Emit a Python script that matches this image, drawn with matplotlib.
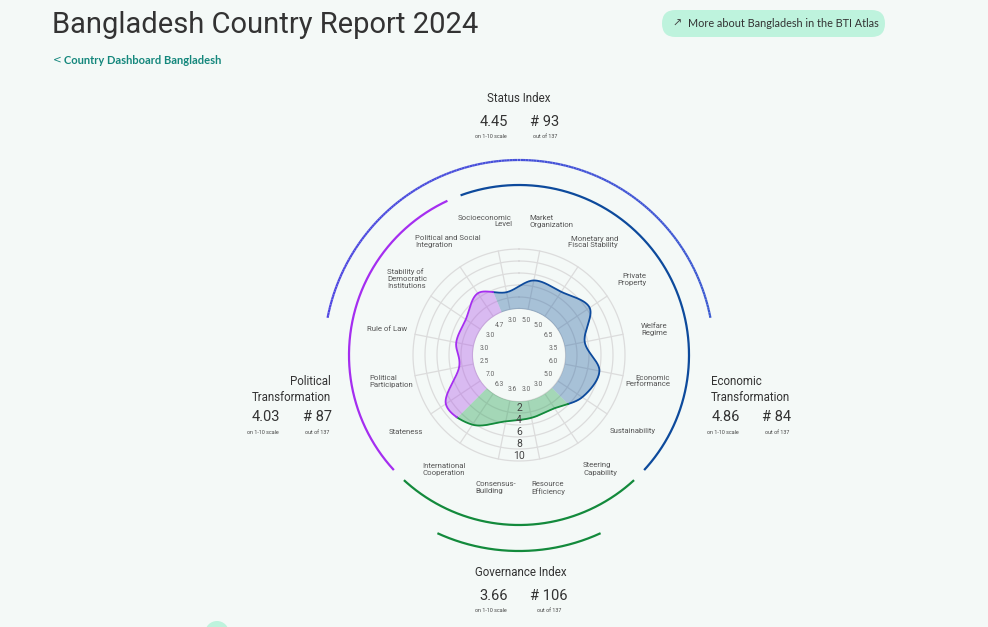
import numpy as np
import matplotlib
matplotlib.use("Agg")
import matplotlib.pyplot as plt
from matplotlib.patches import FancyBboxPatch, Circle
from matplotlib.collections import LineCollection
from matplotlib.colors import to_rgb

# ---------------- data ----------------
categories = ["Market\nOrganization", "Monetary and\nFiscal Stability", "Private\nProperty",
              "Welfare\nRegime", "Economic\nPerformance", "Sustainability",
              "Steering\nCapability", "Resource\nEfficiency", "Consensus-\nBuilding",
              "International\nCooperation", "Stateness", "Political\nParticipation",
              "Rule of Law", "Stability of\nDemocratic\nInstitutions",
              "Political and Social\nIntegration", "Socioeconomic\nLevel"]
scores = [5.0, 5.0, 6.5, 3.5, 6.0, 5.0, 3.0, 3.0, 3.6, 6.3, 7.0, 2.5, 3.0, 3.0, 4.7, 3.0]
score_labels = ["5.0", "5.0", "6.5", "3.5", "6.0", "5.0", "3.0", "3.0", "3.6", "6.3",
                "7.0", "2.5", "3.0", "3.0", "4.7", "3.0"]
dimensions = ["econ", "gov", "pol"]
dimension_members = {"econ": [15, 0, 1, 2, 3, 4, 5], "gov": [6, 7, 8, 9], "pol": [10, 11, 12, 13, 14]}
scale_ticks = [2, 4, 6, 8, 10]
scale_labels = ["2", "4", "6", "8", "10"]

index_titles = ["Status Index", "Political\nTransformation", "Economic\nTransformation", "Governance Index"]
index_scores = ["4.45", "4.03", "4.86", "3.66"]
index_ranks = ["# 93", "# 87", "# 84", "# 106"]
n_countries = 137

title = "Bangladesh Country Report 2024"
back_link = "Country Dashboard Bangladesh"
atlas_button = "More about Bangladesh in the BTI Atlas"

# ---------------- style ----------------
BG = "#f4f9f7"
LINE_COL = {"econ": "#0d4a9c", "gov": "#138a3c", "pol": "#a52ef0"}
FILL_COL = {"econ": ("#1f5fa0", 0.36), "gov": ("#36a860", 0.42), "pol": ("#b15ce8", 0.40)}
GRID = "#dcdcdc"
TXT = "#333333"
LAB = "#555555"

W, H = 988, 627
CX, CY = 519, 355          # chart centre in pixels
PX = 6.0                   # pixels per score unit
INNER = 46.0               # pixel radius of score 0
AXR = 210.0                # half size of polar axes in px
RORIG = -INNER / PX
RMAX = AXR / PX + RORIG

def px_to_r(p):
    return p / PX + RORIG

fig = plt.figure(figsize=(W / 100, H / 100), dpi=100, facecolor=BG)

ax = fig.add_axes([(CX - AXR) / W, (H - CY - AXR) / H, 2 * AXR / W, 2 * AXR / H],
                  projection="polar")
ax.set_theta_zero_location("N")
ax.set_theta_direction(-1)
ax.set_rorigin(RORIG)
ax.set_ylim(0, RMAX)
ax.axis("off")
ax.patch.set_alpha(0)

n = len(categories)
step = 2 * np.pi / n
angles = np.array([step / 2 + i * step for i in range(n)])
full = np.linspace(0, 2 * np.pi, 721)

# grid
ax.plot(full, np.zeros_like(full), color="#d6d6d6", lw=1.6, zorder=1)
for t in scale_ticks:
    ax.plot(full, np.full_like(full, t), color=GRID, lw=0.9, zorder=1)
for a in angles:
    ax.plot([a, a], [0, 10], color=GRID, lw=0.9, zorder=1)

# smooth closed curve (Catmull-Rom in cartesian space)
p = np.array(scores) - RORIG
P = np.column_stack([p * np.sin(angles), p * np.cos(angles)])

def catmull_closed(P, m=60):
    N = len(P)
    out = []
    t = np.linspace(0, 1, m, endpoint=False)[:, None]
    for i in range(N):
        p0, p1, p2, p3 = P[(i - 1) % N], P[i], P[(i + 1) % N], P[(i + 2) % N]
        out.append(0.5 * (2 * p1 + (-p0 + p2) * t + (2 * p0 - 5 * p1 + 4 * p2 - p3) * t ** 2
                          + (-p0 + 3 * p1 - 3 * p2 + p3) * t ** 3))
    return np.vstack(out)

C = catmull_closed(P)
ct = np.mod(np.arctan2(C[:, 0], C[:, 1]), 2 * np.pi)
cr = np.hypot(C[:, 0], C[:, 1]) + RORIG
order = np.argsort(ct)
ct, cr = ct[order], cr[order]

for d in dimensions:
    idx = dimension_members[d]
    a0 = angles[idx[0]] - step / 2
    if a0 > angles[idx[-1]]:
        a0 -= 2 * np.pi
    a1 = a0 + len(idx) * step
    th = np.linspace(a0, a1, 300)
    rr = np.interp(np.mod(th, 2 * np.pi), ct, cr, period=2 * np.pi)
    col, al = FILL_COL[d]
    ax.fill_between(th, 0, rr, color=col, alpha=al, lw=0, zorder=2)
    ax.plot(th, rr, color=LINE_COL[d], lw=1.3, zorder=4)
    # dimension arc
    gap = np.deg2rad(2.4)
    tha = np.linspace(a0 + gap, a1 - gap, 300)
    ax.plot(tha, np.full_like(tha, px_to_r(170)), color=LINE_COL[d], lw=1.6,
            solid_capstyle="butt", clip_on=False, zorder=3)

# status index arc (gradient purple-blue)
ths = np.linspace(np.deg2rad(-79), np.deg2rad(79), 200)
rs = np.full_like(ths, px_to_r(195))
pts = np.column_stack([ths, rs]).reshape(-1, 1, 2)
segs = np.concatenate([pts[:-1], pts[1:]], axis=1)
c0, c1 = np.array(to_rgb("#5046e2")), np.array(to_rgb("#3a5ad0"))
cols = [tuple(c0 + (c1 - c0) * f) for f in np.linspace(0, 1, len(segs))]
lc = LineCollection(segs, colors=cols, linewidths=1.6, capstyle="butt", clip_on=False)
ax.add_collection(lc)

# governance index arc
thg = np.linspace(np.deg2rad(155.4), np.deg2rad(204.6), 200)
ax.plot(thg, np.full_like(thg, px_to_r(196)), color=LINE_COL["gov"], lw=1.6,
        solid_capstyle="butt", clip_on=False)

# scale labels at bottom
for t, s in zip(scale_ticks, scale_labels):
    ax.text(np.pi, t - 0.8, s, ha="center", va="center", fontsize=7.5, color="#444444",
            family="Roboto", zorder=6)

# score labels inside inner circle
for a, s in zip(angles, score_labels):
    ax.text(a, px_to_r(35), s, ha="center", va="center", fontsize=4.9, color="#666666",
            family="Roboto", zorder=6)

# ---------------- overlay text axes (pixel coordinates) ----------------
tx = fig.add_axes([0, 0, 1, 1])
tx.set_xlim(0, W)
tx.set_ylim(H, 0)
tx.axis("off")
tx.patch.set_alpha(0)

# category labels layout (x, y, ha)
label_layout = [(529, 221, "left"), (618, 242, "right"), (646, 280, "right"),
                (667, 329, "right"), (670, 381, "right"), (656, 431, "right"),
                (583, 469, "left"), (531, 488, "left"), (475, 488, "left"),
                (422, 469, "left"), (389, 432, "left"), (369, 381, "left"),
                (367, 329, "left"), (387, 279, "left"), (415, 242, "left"),
                (512, 221, "right")]
for lab, (x, y, ha) in zip(categories, label_layout):
    tx.text(x, y, lab, ha=ha, va="center", fontsize=5.6, color=LAB, family="Roboto",
            linespacing=1.2)

# title etc.
tx.text(52, 25, title, ha="left", va="center", fontsize=21, color=TXT, family="Roboto")
tx.text(53, 60, "<", ha="left", va="center", fontsize=7.5, color="#14877c", family="DejaVu Sans")
tx.text(64, 60, back_link, ha="left", va="center", fontsize=8, color="#14877c",
        family="Lato", fontweight="bold")

btn = FancyBboxPatch((662, 10), 223, 27, boxstyle="round,pad=0,rounding_size=13.5",
                     fc="#bef3dd", ec="none")
tx.add_patch(btn)
tx.text(672, 23.5, "\u2197", ha="left", va="center", fontsize=8, color="#444444",
        family="DejaVu Sans")
tx.text(688, 23.5, atlas_button, ha="left", va="center", fontsize=7.8, color="#333333",
        family="Lato")

tx.add_patch(Circle((217, 633), 12, fc="#bef3dd", ec="none"))

def index_block(title_xy, title_ha, score_xy, rank_xy, small_y, ttl, sc, rk):
    tx.text(*title_xy, ttl, ha=title_ha, va="center", fontsize=8.3, color=TXT,
            family="Roboto", linespacing=1.25)
    tx.text(*score_xy, sc, ha="center", va="center", fontsize=10.5, color=TXT,
            family="Roboto")
    tx.text(*rank_xy, rk, ha="center", va="center", fontsize=10.5, color=TXT,
            family="Roboto")
    tx.text(score_xy[0] - 3, small_y, "on 1-10 scale", ha="center", va="center",
            fontsize=3.9, color="#444444", family="Roboto")
    tx.text(rank_xy[0], small_y, f"out of {n_countries}", ha="center", va="center",
            fontsize=3.9, color="#444444", family="Roboto")

index_block((519, 99), "center", (494, 122), (545, 122), 137,
            index_titles[0], index_scores[0], index_ranks[0])
index_block((331, 389.5), "right", (266, 417), (317, 417), 432,
            index_titles[1], index_scores[1], index_ranks[1])
index_block((711, 389.5), "left", (726, 417), (777, 417), 432,
            index_titles[2], index_scores[2], index_ranks[2])
index_block((521, 573), "center", (494, 596), (549, 596), 611,
            index_titles[3], index_scores[3], index_ranks[3])

fig.savefig("out.png", dpi=100, facecolor=BG)
